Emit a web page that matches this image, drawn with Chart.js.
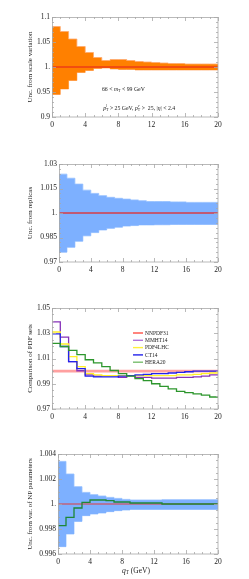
<!DOCTYPE html>
<html>
<head>
<meta charset="utf-8">
<script src="https://cdn.jsdelivr.net/npm/chart.js@4.4.1/dist/chart.umd.min.js"></script>
<style>
    html, body { margin: 0; padding: 0; background: #fff; }
    #wrap { position: relative; width: 249px; height: 579px; }
    .panel { position: absolute; left: 0; width: 249px; }
</style>
</head>
<body>
<div id="wrap">
    <div class="panel" style="top:0;height:145px"><canvas id="scaleChart"></canvas></div>
    <div class="panel" style="top:145px;height:145px"><canvas id="replicaChart"></canvas></div>
    <div class="panel" style="top:290px;height:145px"><canvas id="pdfChart"></canvas></div>
    <div class="panel" style="top:435px;height:144px"><canvas id="npChart"></canvas></div>
</div>
<script>
// --- Data: bin edges in qT (GeV), one value per 1 GeV bin ---
const binEdges = [0, 1, 2, 3, 4, 5, 6, 7, 8, 9, 10, 11, 12, 13, 14, 15, 16, 17, 18, 19, 20];
const xTicks = [0, 4, 8, 12, 16, 20];

// Panel 1: scale variation
const scaleUp = [1.081, 1.071, 1.056, 1.041, 1.029, 1.019, 1.013, 1.015, 1.015, 1.013, 1.011, 1.010, 1.009, 1.008, 1.007, 1.007, 1.006, 1.006, 1.006, 1.006];
const scaleDn = [0.945, 0.956, 0.973, 0.989, 0.993, 0.997, 0.998, 0.996, 0.995, 0.995, 0.994, 0.994, 0.994, 0.994, 0.994, 0.994, 0.994, 0.994, 0.994, 0.994];
const scaleCentral = [1, 1, 1, 1, 1, 1, 1, 1, 1, 1, 1, 1, 1, 1, 1, 1, 1, 1, 1, 1];
const yTicks1 = [0.9, 0.95, 1.0, 1.05, 1.1];
const yLabels1 = ['0.9', '0.95', '1.', '1.05', '1.1'];

// Panel 2: replicas
const repUp = [1.0238, 1.0213, 1.0177, 1.0140, 1.0120, 1.0106, 1.0096, 1.0090, 1.0085, 1.0080, 1.0075, 1.0070, 1.0070, 1.0070, 1.0068, 1.0068, 1.0065, 1.0065, 1.0065, 1.0065];
const repDn = [0.9760, 0.9790, 0.9827, 0.9860, 0.9880, 0.9896, 0.9906, 0.9913, 0.9920, 0.9923, 0.9927, 0.9927, 0.9928, 0.9928, 0.9930, 0.9930, 0.9930, 0.9930, 0.9930, 0.9930];
const repCentral = [1, 1, 1, 1, 1, 1, 1, 1, 1, 1, 1, 1, 1, 1, 1, 1, 1, 1, 1, 1];
const yTicks2 = [0.97, 0.985, 1.0, 1.015, 1.03];
const yLabels2 = ['0.97', '0.985', '1.', '1.015', '1.03'];

// Panel 3: PDF sets
const pdfNames = ['NNPDF31', 'MMHT14', 'PDF4LHC', 'CT14', 'HERA20'];
const nnpdf31 = [1, 1, 1, 1, 1, 1, 1, 1, 1, 1, 1, 1, 1, 1, 1, 1, 1, 1, 1, 1];
const mmht14 = [1.039, 1.027, 1.0075, 1.0003, 0.997, 0.996, 0.9965, 0.9965, 0.995, 0.9965, 0.995, 0.995, 0.9945, 0.9945, 0.9945, 0.995, 0.995, 0.9955, 0.996, 0.997];
const pdf4lhc = [1.031, 1.0215, 1.0115, 1.0035, 0.998, 0.997, 0.9965, 0.9965, 0.9965, 0.9965, 0.9965, 0.9965, 0.9965, 0.9965, 0.9965, 0.997, 0.997, 0.9975, 0.998, 0.9985];
const ct14 = [1.0295, 1.0195, 1.0075, 1.002, 0.996, 0.9955, 0.9955, 0.9955, 0.996, 0.9965, 0.997, 0.9975, 0.998, 0.998, 0.9985, 0.999, 0.9995, 1.0, 1.0, 1.0];
const hera20 = [1.022, 1.0195, 1.0165, 1.013, 1.009, 1.0065, 1.0035, 1.0005, 0.998, 0.996, 0.994, 0.9925, 0.990, 0.988, 0.986, 0.984, 0.983, 0.982, 0.981, 0.9795];
const yTicks3 = [0.97, 0.99, 1.01, 1.03, 1.05];
const yLabels3 = ['0.97', '0.99', '1.01', '1.03', '1.05'];

// Panel 4: NP parameters
const npUp = [1.00341, 1.00240, 1.00139, 1.00093, 1.00075, 1.00064, 1.00053, 1.00045, 1.00037, 1.00032, 1.00032, 1.00032, 1.00032, 1.00035, 1.00035, 1.00035, 1.00035, 1.00035, 1.00035, 1.00035];
const npDn = [0.99659, 0.99760, 0.99861, 0.99907, 0.99920, 0.99928, 0.99939, 0.99947, 0.99952, 0.99957, 0.99957, 0.99957, 0.99957, 0.99957, 0.99957, 0.99957, 0.99957, 0.99957, 0.99957, 0.99957];
const npCentral = [1, 1, 1, 1, 1, 1, 1, 1, 1, 1, 1, 1, 1, 1, 1, 1, 1, 1, 1, 1];
const npFit = [0.99827, 0.99893, 0.99968, 1.00013, 1.00032, 1.00032, 1.00027, 1.00016, 1.00016, 1.00008, 1.00008, 1.00008, 1.00008, 1.0, 1.0, 1.0, 1.0, 1.0, 1.0, 1.0];
const yTicks4 = [0.996, 0.998, 1.0, 1.002, 1.004];
const yLabels4 = ['0.996', '0.998', '1.', '1.002', '1.004'];

const SERIF = '"Liberation Serif", "DejaVu Serif", serif';

// bin values -> step points at bin edges
function steps(vals) {
    return binEdges.map((x, i) => ({ x: x, y: vals[Math.min(i, vals.length - 1)] }));
}

// draws text made of pieces (italic, sub, sup)
function drawRich(ctx, parts, cx, cy, size) {
    let w = 0;
    const items = parts.map(p => {
        const s = (p.sub || p.sup) ? size * 0.68 : size;
        const font = (p.it ? 'italic ' : '') + s + 'px ' + SERIF;
        ctx.font = font;
        const pw = ctx.measureText(p.t).width;
        if (!p.keep) w += pw;
        return { t: p.t, font: font, w: pw, keep: p.keep, dy: p.sub ? size * 0.28 : (p.sup ? -size * 0.38 : 0) };
    });
    let x = cx - w / 2;
    ctx.textBaseline = 'middle';
    ctx.textAlign = 'left';
    items.forEach(it => {
        ctx.font = it.font;
        ctx.fillText(it.t, x, cy + it.dy);
        if (!it.keep) x += it.w;
    });
}

// --- Frame with inward ticks on all four sides ---
const framePlugin = {
    id: 'frame',
    afterDraw(chart, args, opts) {
        const { ctx, chartArea: a, scales } = chart;
        ctx.save();
        ctx.strokeStyle = '#a8a8a8';
        ctx.lineWidth = 0.8;
        ctx.strokeRect(a.left + 0.5, a.top + 0.5, a.right - a.left - 0.5, a.bottom - a.top - 0.5);
        ctx.beginPath();
        const xs = scales.x, ys = scales.y;
        for (let v = xs.min; v <= xs.max + 1e-9; v += 1) {
            const px = Math.round(xs.getPixelForValue(v)) + 0.5;
            const len = (Math.round(v) % 4 === 0) ? 4 : 2;
            ctx.moveTo(px, a.bottom); ctx.lineTo(px, a.bottom - len);
            ctx.moveTo(px, a.top); ctx.lineTo(px, a.top + len);
        }
        const step = opts.yMinor;
        const n = Math.round((ys.max - ys.min) / step);
        const per = opts.yPer;
        for (let i = 0; i <= n; i++) {
            const v = ys.min + i * step;
            const py = Math.round(ys.getPixelForValue(v)) + 0.5;
            const len = (i % per === 0) ? 4 : 2;
            ctx.moveTo(a.left, py); ctx.lineTo(a.left + len, py);
            ctx.moveTo(a.right, py); ctx.lineTo(a.right - len, py);
        }
        ctx.stroke();
        ctx.restore();
    }
};

// --- Text notes, legend and x title ---
const notesPlugin = {
    id: 'notes',
    afterDraw(chart, args, opts) {
        const { ctx, chartArea: a, scales } = chart;
        ctx.save();
        ctx.fillStyle = '#222';
        (opts.texts || []).forEach(n => {
            drawRich(ctx, n.parts, scales.x.getPixelForValue(n.x), scales.y.getPixelForValue(n.y), n.size);
        });
        if (opts.xTitle) {
            drawRich(ctx, opts.xTitle, (a.left + a.right) / 2 - 2, chart.height - 8, 7.5);
        }
        if (opts.legend) {
            const lx = a.left + 81, ly = a.top + 25, row = 7.3;
            chart.data.datasets.forEach((ds, i) => {
                const y = ly + i * row;
                ctx.strokeStyle = ds.legendColor || ds.borderColor;
                ctx.lineWidth = 1.4;
                ctx.beginPath();
                ctx.moveTo(lx, y); ctx.lineTo(lx + 10, y);
                ctx.stroke();
                ctx.fillStyle = '#222';
                ctx.font = '5.5px ' + SERIF;
                ctx.textAlign = 'left';
                ctx.textBaseline = 'middle';
                ctx.fillText(ds.label, lx + 12, y + 0.3);
            });
        }
        ctx.restore();
    }
};

function makeChart(id, cfg) {
    return new Chart(document.getElementById(id), {
        type: 'line',
        data: { datasets: cfg.datasets },
        options: {
            responsive: true,
            maintainAspectRatio: false,
            animation: false,
            layout: { padding: { top: cfg.top, right: 31, bottom: cfg.bottom, left: 0 } },
            elements: { point: { radius: 0 }, line: { stepped: true, tension: 0 } },
            plugins: {
                legend: { display: false },
                tooltip: { enabled: false },
                frame: { yMinor: cfg.yMinor, yPer: cfg.yPer },
                notes: cfg.notes || {}
            },
            scales: {
                x: {
                    type: 'linear', min: 0, max: 20,
                    grid: { display: false, drawTicks: false },
                    border: { display: false },
                    afterBuildTicks: s => { s.ticks = xTicks.map(v => ({ value: v })); },
                    afterFit: s => { s.height = 20; },
                    ticks: { padding: 4, autoSkip: false, maxRotation: 0, color: '#222', font: { family: SERIF, size: 7.5 } }
                },
                y: {
                    type: 'linear', min: cfg.yTicks[0], max: cfg.yTicks[cfg.yTicks.length - 1],
                    grid: { display: false, drawTicks: false },
                    border: { display: false },
                    afterBuildTicks: s => { s.ticks = cfg.yTicks.map(v => ({ value: v })); },
                    afterFit: s => { s.width = cfg.yWidth; },
                    ticks: {
                        padding: 2, autoSkip: false, color: '#222', font: { family: SERIF, size: 7.5 },
                        callback: (v, i) => cfg.yLabels[i]
                    },
                    title: {
                        display: true, text: cfg.yTitle, color: '#222',
                        font: { family: SERIF, size: 7 }, padding: { top: 26, bottom: 0 }
                    }
                }
            }
        },
        plugins: [framePlugin, notesPlugin]
    });
}

function band(lower, upper, fillColor, edgeColor) {
    return [
        { data: steps(lower), borderColor: edgeColor, borderWidth: 0.8, fill: false, order: 5 },
        { data: steps(upper), borderColor: edgeColor, borderWidth: 0.8, fill: '-1', backgroundColor: fillColor, order: 4 }
    ];
}

// --- Panel 1 ---
makeChart('scaleChart', {
    top: 17, bottom: 8, yWidth: 52,
    yTicks: yTicks1, yLabels: yLabels1, yMinor: 0.01, yPer: 5,
    yTitle: 'Unc. from scale variation',
    datasets: band(scaleDn, scaleUp, 'rgb(255,128,0)', 'rgb(255,170,110)').concat([
        { data: steps(scaleCentral), borderColor: 'rgb(238,60,20)', borderWidth: 1.4, fill: false, order: 0 }
    ]),
    notes: {
        texts: [
            { x: 8.6, y: 0.956, size: 5.8, parts: [
                { t: '66 < ' }, { t: 'm', it: true }, { t: 'T', sub: true }, { t: ' < 99 GeV' }] },
            { x: 10.5, y: 0.917, size: 5.8, parts: [
                { t: 'p', it: true }, { t: 'l', it: true, sup: true, keep: true }, { t: 'T', sub: true },
                { t: ' > 25 GeV, ' },
                { t: 'p', it: true }, { t: 'ν', it: true, sup: true, keep: true }, { t: 'T', sub: true },
                { t: ' >  25, |' }, { t: 'η', it: true }, { t: '| < 2.4' }] }
        ]
    }
});

// --- Panel 2 ---
makeChart('replicaChart', {
    top: 19, bottom: 8, yWidth: 59,
    yTicks: yTicks2, yLabels: yLabels2, yMinor: 0.003, yPer: 5,
    yTitle: 'Unc. from replicas',
    datasets: band(repDn, repUp, 'rgb(125,176,255)', 'rgb(150,192,255)').concat([
        { data: steps(repCentral), borderColor: 'rgb(215,60,70)', borderWidth: 1.3, fill: false, order: 0 }
    ])
});

// --- Panel 3 ---
const pdfSeries = [nnpdf31, mmht14, pdf4lhc, ct14, hera20];
const pdfColors = ['rgb(255,160,160)', 'rgb(135,50,185)', 'rgb(255,240,40)', 'rgb(35,35,235)', 'rgb(45,150,45)'];
const pdfLegendColors = ['rgb(255,80,70)', 'rgb(175,115,220)', 'rgb(255,240,60)', 'rgb(35,35,235)', 'rgb(120,190,110)'];
const pdfWidths = [2.6, 1.3, 1.3, 1.3, 1.3];
makeChart('pdfChart', {
    top: 18, bottom: 6, yWidth: 52,
    yTicks: yTicks3, yLabels: yLabels3, yMinor: 0.005, yPer: 4,
    yTitle: 'Comparison of PDF sets',
    datasets: pdfNames.map((name, i) => ({
        label: name,
        data: steps(pdfSeries[i]),
        borderColor: pdfColors[i],
        legendColor: pdfLegendColors[i],
        borderWidth: pdfWidths[i],
        fill: false,
        order: i === 0 ? 10 : 5 - i
    })),
    notes: { legend: true }
});

// --- Panel 4 ---
makeChart('npChart', {
    top: 19, bottom: 5, yWidth: 58,
    yTicks: yTicks4, yLabels: yLabels4, yMinor: 0.0005, yPer: 4,
    yTitle: 'Unc. from var. of NP parameters',
    datasets: band(npDn, npUp, 'rgb(125,176,255)', 'rgb(150,192,255)').concat([
        { data: steps(npCentral), borderColor: 'rgb(225,60,60)', borderWidth: 1.2, fill: false, order: 1 },
        { data: steps(npFit), borderColor: 'rgb(30,135,55)', borderWidth: 1.3, fill: false, order: 0 }
    ]),
    notes: { xTitle: [{ t: 'q', it: true }, { t: 'T', sub: true }, { t: ' (GeV)' }] }
});
</script>
</body>
</html>
